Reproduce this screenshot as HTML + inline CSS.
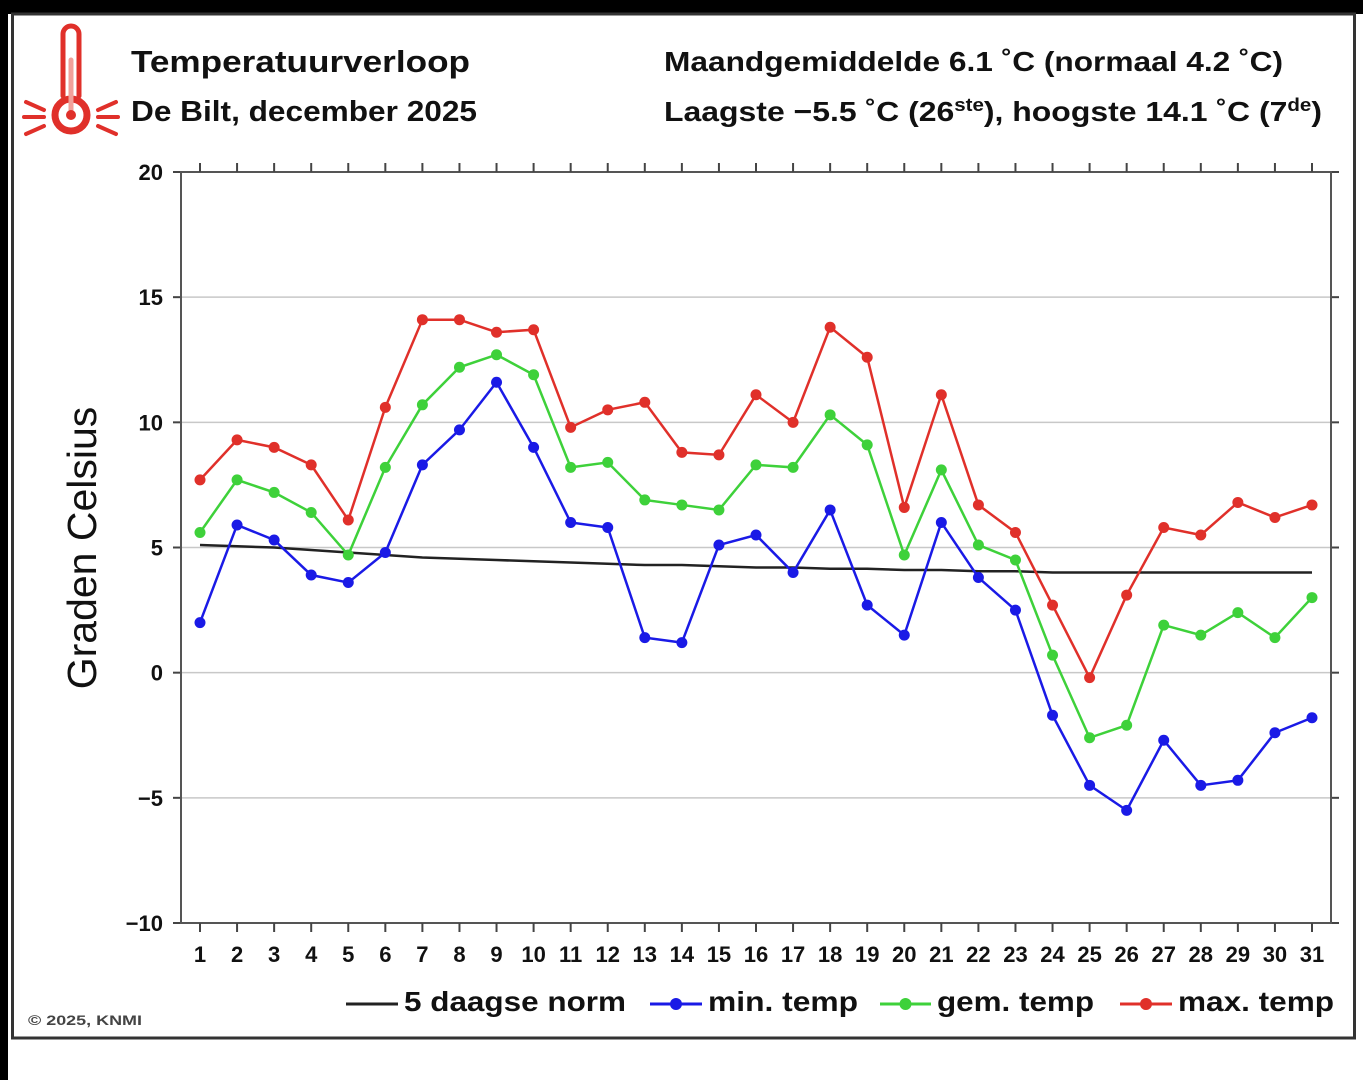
<!DOCTYPE html>
<html><head><meta charset="utf-8"><style>
html,body{margin:0;padding:0;background:#fff;}
svg{display:block;font-family:"Liberation Sans",Arial,sans-serif;}
</style></head><body>
<svg id="chart" width="1363" height="1080" viewBox="0 0 1363 1080">
<rect x="0" y="0" width="1363" height="1080" fill="#fff"/>
<rect x="0" y="0" width="1363" height="14" fill="#000"/>
<rect x="0" y="0" width="8" height="1080" fill="#000"/>
<rect x="12.5" y="14" width="1342" height="1024" fill="none" stroke="#333" stroke-width="3"/>
<g stroke="#e0302a" fill="none" stroke-linecap="round">
<path d="M63,96 V34 a8,8 0 0 1 16,0 V96" stroke-width="5"/>
<circle cx="71" cy="115" r="16" stroke-width="7"/>
<line x1="71" y1="60" x2="71" y2="113" stroke-width="5" stroke="#f2a09a"/>
<circle cx="71" cy="115" r="5" fill="#e0302a" stroke="none"/>
<line x1="26" y1="102" x2="44" y2="110" stroke-width="4"/><line x1="24" y1="117" x2="44" y2="117" stroke-width="4"/><line x1="26" y1="134" x2="44" y2="126" stroke-width="4"/>
<line x1="116" y1="102" x2="98" y2="110" stroke-width="4"/><line x1="118" y1="117" x2="98" y2="117" stroke-width="4"/><line x1="116" y1="134" x2="98" y2="126" stroke-width="4"/>
</g>
<text x="131" y="72" font-size="31" font-weight="bold" fill="#111" textLength="339" lengthAdjust="spacingAndGlyphs">Temperatuurverloop</text>
<text x="131" y="121" font-size="29" font-weight="bold" fill="#111" textLength="346" lengthAdjust="spacingAndGlyphs">De Bilt, december 2025</text>
<text x="664" y="71" font-size="28" font-weight="bold" fill="#111" textLength="619" lengthAdjust="spacingAndGlyphs">Maandgemiddelde 6.1 ˚C (normaal 4.2 ˚C)</text>
<text x="664" y="121" font-size="28" font-weight="bold" fill="#111" textLength="658" lengthAdjust="spacingAndGlyphs">Laagste −5.5 ˚C (26<tspan font-size="18" dy="-10">ste</tspan><tspan dy="10">), hoogste 14.1 ˚C (7</tspan><tspan font-size="18" dy="-10">de</tspan><tspan dy="10">)</tspan></text>
<text transform="translate(96,548) rotate(-90)" text-anchor="middle" font-size="41" fill="#111">Graden Celsius</text>
<text x="28" y="1025" font-size="14" font-weight="bold" fill="#444" textLength="114" lengthAdjust="spacingAndGlyphs">© 2025, KNMI</text>
<g id="grid"></g><g id="axes"></g><g id="series"></g><g id="legend"></g>
</svg>
<script>
const days=[1,2,3,4,5,6,7,8,9,10,11,12,13,14,15,16,17,18,19,20,21,22,23,24,25,26,27,28,29,30,31];
const yTicks=[20,15,10,5,0,-5,-10];
const yTickLabels=["20","15","10","5","0","\u22125","\u221210"];
const normTemp=[5.1,5.05,5.0,4.9,4.8,4.7,4.6,4.55,4.5,4.45,4.4,4.35,4.3,4.3,4.25,4.2,4.2,4.15,4.15,4.1,4.1,4.05,4.05,4.0,4.0,4.0,4.0,4.0,4.0,4.0,4.0];
const minTemp=[2.0,5.9,5.3,3.9,3.6,4.8,8.3,9.7,11.6,9.0,6.0,5.8,1.4,1.2,5.1,5.5,4.0,6.5,2.7,1.5,6.0,3.8,2.5,-1.7,-4.5,-5.5,-2.7,-4.5,-4.3,-2.4,-1.8];
const gemTemp=[5.6,7.7,7.2,6.4,4.7,8.2,10.7,12.2,12.7,11.9,8.2,8.4,6.9,6.7,6.5,8.3,8.2,10.3,9.1,4.7,8.1,5.1,4.5,0.7,-2.6,-2.1,1.9,1.5,2.4,1.4,3.0];
const maxTemp=[7.7,9.3,9.0,8.3,6.1,10.6,14.1,14.1,13.6,13.7,9.8,10.5,10.8,8.8,8.7,11.1,10.0,13.8,12.6,6.6,11.1,6.7,5.6,2.7,-0.2,3.1,5.8,5.5,6.8,6.2,6.7];
const NS="http://www.w3.org/2000/svg";
const L=181,R=1331,T=172,B=923;
function xs(d){return 200+(d-1)*(1312-200)/30;}
function ys(v){return B-(v+10)*(B-T)/30;}
function mk(tag,attrs,parent){const e=document.createElementNS(NS,tag);for(const k in attrs)e.setAttribute(k,attrs[k]);parent.appendChild(e);return e;}
const grid=document.getElementById('grid'),axes=document.getElementById('axes'),series=document.getElementById('series'),legend=document.getElementById('legend');
yTicks.forEach((v,i)=>{
 if(v!==20&&v!==-10){const g=mk('line',{x1:L,x2:R,y1:ys(v),y2:ys(v),stroke:'#c8c8c8','stroke-width':1.5},grid);
 
 }
 const t=mk('line',{x1:L-8,x2:L,y1:ys(v),y2:ys(v),stroke:'#444','stroke-width':2},axes);
 
 
 const t2=mk('line',{x1:R,x2:R+8,y1:ys(v),y2:ys(v),stroke:'#444','stroke-width':2},axes);
 
 
 const lb=mk('text',{x:L-18,y:ys(v)+8,'text-anchor':'end','font-size':22,'font-weight':'bold',fill:'#111'},axes);
 lb.textContent=yTickLabels[i];
 
 
});
const frame=mk('rect',{x:L,y:T,width:R-L,height:B-T,fill:'none',stroke:'#555','stroke-width':2},axes);


days.forEach(d=>{
 const a=mk('line',{x1:xs(d),x2:xs(d),y1:B,y2:B+9,stroke:'#444','stroke-width':2},axes);
 
 
 const b=mk('line',{x1:xs(d),x2:xs(d),y1:T-9,y2:T,stroke:'#444','stroke-width':2},axes);
 
 
 const lb=mk('text',{x:xs(d),y:962,'text-anchor':'middle','font-size':22,'font-weight':'bold',fill:'#111'},axes);
 lb.textContent=String(d);
 
 
});
function line(vals,color,w,name,dots){
 const pts=vals.map((v,i)=>xs(days[i])+','+ys(v)).join(' ');
 const p=mk('polyline',{points:pts,fill:'none',stroke:color,'stroke-width':w},series);
 
 
 if(dots)vals.forEach((v,i)=>{
  const c=mk('circle',{cx:xs(days[i]),cy:ys(v),r:5.5,fill:color},series);
  
  
 });
}
line(normTemp,'#222',2.5,'norm',false);
line(maxTemp,'#e0302a',2.5,'max-temp',true);
line(gemTemp,'#3ed13a',2.5,'gem-temp',true);
line(minTemp,'#1a1ae6',2.5,'min-temp',true);
const leg=[['5 daagse norm','#222',false,346,404,222],['min. temp','#1a1ae6',true,650,708,150],['gem. temp','#3ed13a',true,880,937,157],['max. temp','#e0302a',true,1120,1178,156]];
leg.forEach(l=>{
 const g=mk('g',{},legend);
 
 
 mk('line',{x1:l[3],x2:l[4]-6,y1:1004,y2:1004,stroke:l[1],'stroke-width':3},g);
 if(l[2])mk('circle',{cx:(l[3]+l[4]-6)/2,cy:1004,r:6,fill:l[1]},g);
 const t=mk('text',{x:l[4],y:1011,'font-size':28,'font-weight':'bold',fill:'#111',textLength:l[5],lengthAdjust:'spacingAndGlyphs'},g);
 t.textContent=l[0];
});
</script>
</body></html>
